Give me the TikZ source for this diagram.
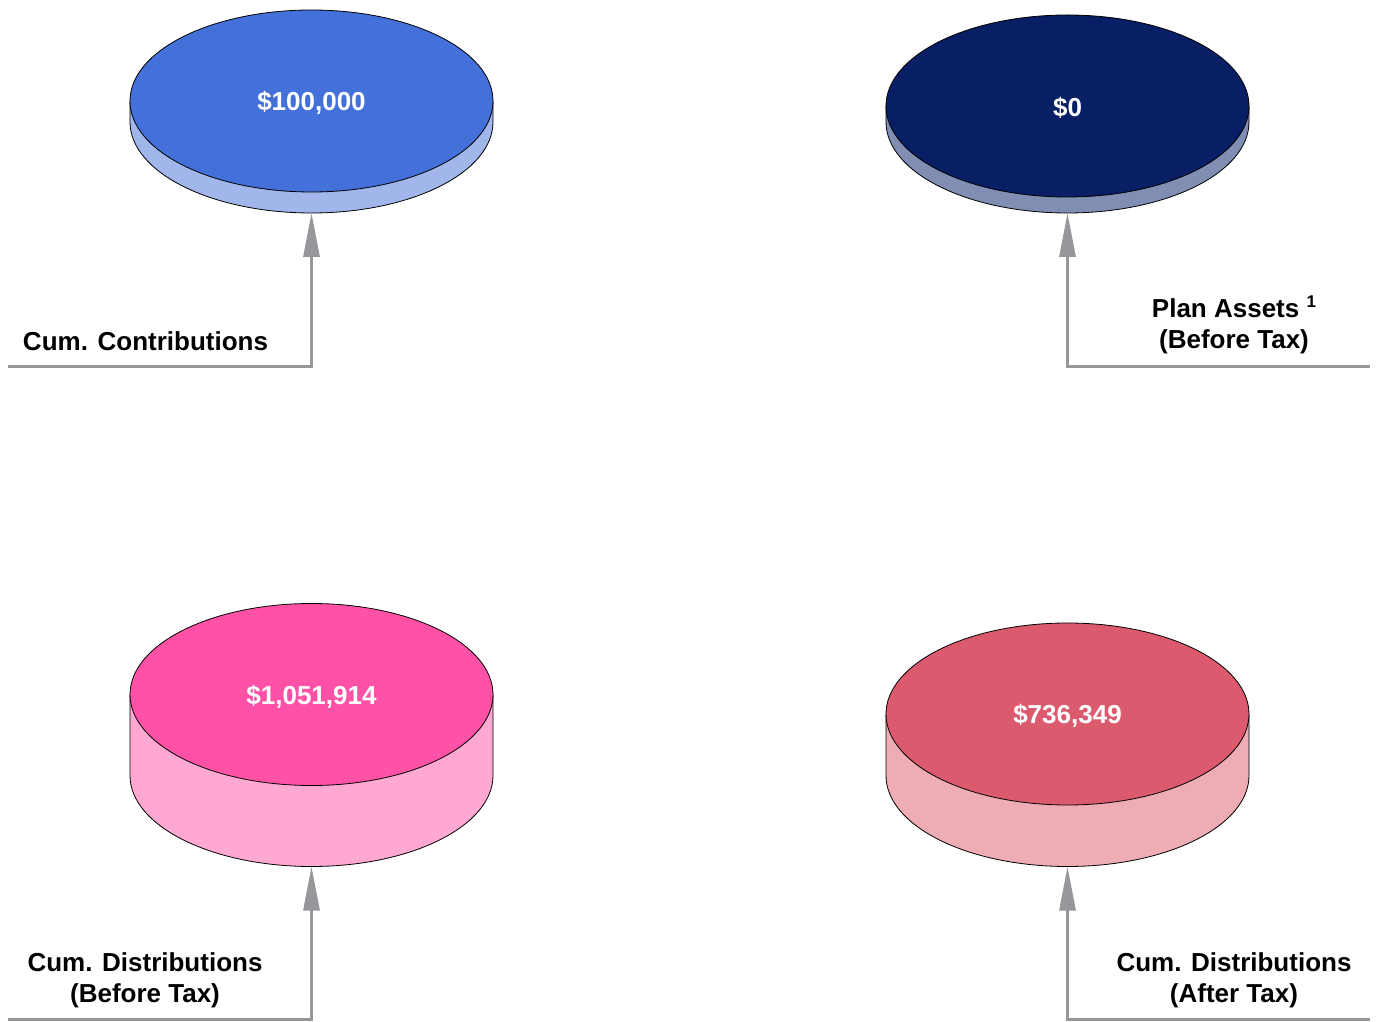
\documentclass[tikz,border=0pt]{standalone}
\usepackage{fontspec}
\setmainfont{Liberation Sans}
\usetikzlibrary{
    calc,
    arrows.meta,
    positioning,
}

\definecolor{contribtop}{RGB}{68,112,217}
\definecolor{contribside}{RGB}{161,182,235}
\definecolor{assettop}{RGB}{8,30,101}
\definecolor{assetside}{RGB}{128,142,180}
\definecolor{pretaxtop}{RGB}{255,82,166}
\definecolor{pretaxside}{RGB}{255,168,210}
\definecolor{aftertaxtop}{RGB}{220,90,110}
\definecolor{aftertaxside}{RGB}{238,172,180}
\definecolor{leadergray}{RGB}{150,150,155}

\tikzset{
    rim/.style={draw=black, line width=0.8pt},
    valtext/.style={text=white, font=\bfseries\fontsize{26}{31}\selectfont, inner sep=0pt, yshift=-2pt},
    captext/.style={text=black, font=\bfseries\fontsize{26}{31}\selectfont, align=center, inner sep=0pt, anchor=base},
    leader/.style={draw=leadergray, line width=3pt, -{Triangle[length=44pt, width=16pt]}},
}

% #1 name, #2 x, #3 y, #4 height, #5 top colour, #6 side colour, #7 value
\newcommand{\Disc}[7]{
    \fill[#6] (#2-181.5,#3) -- ++(0,-#4)
        arc[start angle=180, end angle=360, x radius=181.5, y radius=91] -- ++(0,#4) -- cycle;
    \draw[rim] (#2-181.5,#3) -- ++(0,-#4)
        arc[start angle=180, end angle=360, x radius=181.5, y radius=91] -- ++(0,#4);
    \draw[rim, fill=#5] (#2,#3) ellipse[x radius=181.5, y radius=91];
    \node[valtext] (#1) at (#2,#3) {#7};
    \coordinate (#1-bot) at (#2,#3-#4-91);
}

\begin{document}
\begin{tikzpicture}[x=1pt, y=1pt]

        \useasboundingbox (0,0) rectangle (1376,1021);

        \Disc{contrib}{311.5}{920}{21}{contribtop}{contribside}{\$100,000}
        \Disc{assets}{1067.5}{915}{16}{assettop}{assetside}{\$0}
        \Disc{pretax}{311.5}{326.5}{81}{pretaxtop}{pretaxside}{\$1,051,914}
        \Disc{aftertax}{1067.5}{307}{61.5}{aftertaxtop}{aftertaxside}{\$736,349}

        \coordinate (contrib-end) at (8,654);
        \coordinate (assets-end) at (1370,654);
        \coordinate (pretax-end) at (8,2);
        \coordinate (aftertax-end) at (1370,2);

        \draw[leader] (contrib-end) -| (contrib-bot);
        \draw[leader] (assets-end) -| (assets-bot);
        \draw[leader] (pretax-end) -| (pretax-bot);
        \draw[leader] (aftertax-end) -| (aftertax-bot);

        \node[captext] (contrib-cap) at (145.5,670) {Cum. Contributions};
        \node[captext] (assets-cap) at (1234,672) {Plan Assets {\fontsize{17}{17}\selectfont\raisebox{10pt}{1}}\\(Before Tax)};
        \node[captext] (pretax-cap) at (145,19) {Cum. Distributions\\(Before Tax)};
        \node[captext] (aftertax-cap) at (1234,19) {Cum. Distributions\\(After Tax)};
    \end{tikzpicture}
\end{document}
